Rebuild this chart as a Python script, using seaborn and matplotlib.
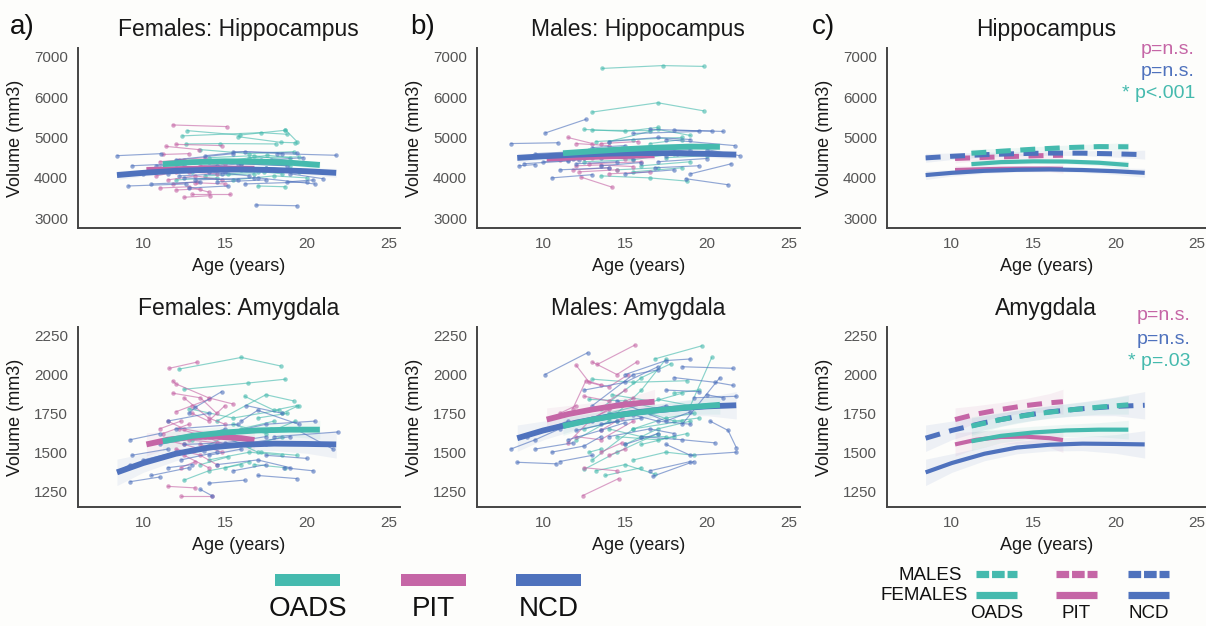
import matplotlib
matplotlib.use("Agg")
import matplotlib.pyplot as plt
import numpy as np
import pandas as pd
import seaborn as sns
from matplotlib.lines import Line2D
from matplotlib.patches import Rectangle

sns.set_theme(style="white")
plt.rcParams["font.family"] = ["Liberation Sans", "DejaVu Sans"]

# ---------------- data ----------------
groups = ["OADS", "PIT", "NCD"]
colors = {"OADS": "#45BAAE", "PIT": "#C566A6", "NCD": "#4F72BD"}

# individual trajectories: each subject = age1, vol1, age2, vol2, [age3, vol3, ...]
fh_ncd = [[8.4, 4550, 11.1, 4600], [9.1, 3800, 12.6, 3850], [9.3, 4300, 12.0, 4350],
          [10.5, 3850, 13.5, 3900], [11.5, 4100, 14.0, 4150, 16.5, 4050], [12.0, 4450, 15.5, 4600],
          [12.5, 4000, 15.8, 3950], [13.0, 4250, 16.0, 4350], [13.8, 4550, 16.2, 4650, 18.5, 4600],
          [14.5, 3900, 17.5, 3950], [15.0, 4150, 18.0, 4200], [15.5, 4650, 19.4, 4620],
          [16.2, 3850, 20.0, 3900], [16.9, 3330, 19.4, 3310], [17.0, 4000, 20.5, 3850],
          [17.5, 4250, 21.3, 4150], [18.2, 4600, 21.8, 4560], [18.8, 3900, 20.4, 3950],
          [10.0, 4100, 13.0, 4200], [12.8, 3750, 15.2, 3800], [14.0, 4400, 17.2, 4450],
          [19.0, 4100, 21.0, 3980], [11.0, 4250, 14.5, 4300], [12.2, 4050, 14.8, 4100],
          [15.8, 4350, 18.8, 4300], [13.2, 3950, 16.8, 4000], [17.8, 4450, 19.8, 4500],
          [10.8, 4300, 12.5, 4320]]
fh_oads = [[12.7, 5170, 15.9, 5060, 18.7, 5180], [12.4, 5040, 17.2, 5120, 18.8, 5080],
           [12.6, 4840, 14.7, 4850, 18.1, 4840], [15.8, 5020, 18.4, 4880, 19.3, 4870],
           [13.5, 4700, 16.5, 4600, 19.2, 4650], [14.8, 4400, 17.6, 4560, 19.0, 4500],
           [13.0, 4150, 16.0, 4200, 18.5, 4100], [15.5, 3950, 18.0, 4050, 20.0, 4000],
           [12.0, 3950, 14.5, 4000], [16.0, 4350, 19.0, 4300], [17.0, 3800, 18.7, 3780],
           [14.2, 4250, 17.4, 4150, 19.6, 4200], [16.5, 4500, 19.5, 4520], [13.8, 4050, 16.8, 4100],
           [18.7, 5190, 19.4, 4900], [14.0, 4500, 16.8, 4550, 19.0, 4420], [17.5, 4250, 19.5, 4150],
           [15.2, 4100, 17.0, 4150]]
fh_pit = [[11.8, 5310, 15.1, 5270], [11.4, 4780, 13.4, 4700], [12.0, 4830, 14.8, 4800],
          [10.8, 4200, 12.5, 4250], [11.0, 3750, 12.8, 3780, 14.0, 3650], [12.5, 3520, 14.1, 3560],
          [13.0, 3600, 15.3, 3600], [11.5, 3950, 13.2, 4050, 14.8, 3950], [12.2, 4450, 13.8, 4500],
          [10.8, 4050, 12.0, 4150], [13.5, 4300, 15.0, 4350], [12.0, 3700, 13.5, 3730],
          [11.2, 4580, 12.8, 4600], [13.2, 3880, 15.0, 3850], [11.0, 4400, 12.5, 4450],
          [12.8, 4150, 14.5, 4100], [11.8, 3850, 13.3, 3900]]

mh_ncd = [[8.0, 4850, 10.9, 4870], [10.1, 5110, 12.6, 5450], [8.5, 4300, 9.5, 4330],
          [8.8, 4350, 11.5, 4420], [9.5, 4600, 12.0, 4650], [10.5, 4000, 13.0, 4080],
          [11.0, 4200, 14.0, 4250], [12.5, 4500, 15.5, 4480], [13.5, 4300, 16.0, 4380],
          [14.0, 4900, 17.0, 5000, 19.0, 4950], [15.0, 4100, 18.0, 4200], [15.5, 5100, 19.5, 5150],
          [16.0, 4600, 19.0, 4700], [16.5, 5200, 21.0, 5150], [17.0, 4400, 20.0, 4480],
          [17.5, 4950, 21.7, 4800], [18.0, 5180, 20.3, 5160], [18.7, 3980, 21.3, 3830],
          [19.0, 4100, 21.5, 4350], [20.0, 4700, 22.0, 4550], [13.0, 4750, 15.0, 4800],
          [11.5, 4450, 13.5, 4500], [9.0, 4520, 11.8, 4480], [14.5, 4650, 17.5, 4550],
          [12.0, 4350, 14.5, 4400], [16.8, 4250, 19.5, 4300], [14.8, 4550, 18.2, 4600],
          [10.0, 4400, 12.2, 4450]]
mh_oads = [[13.6, 6710, 17.3, 6780, 19.8, 6760], [13.0, 5630, 17.0, 5860, 19.8, 5660],
           [12.5, 5200, 15.0, 5150, 17.0, 5250], [13.0, 5180, 16.5, 5170],
           [14.0, 4900, 17.0, 5200, 19.0, 5050], [12.5, 4400, 15.5, 4450, 18.0, 4600],
           [13.5, 4050, 16.5, 4000, 18.8, 3920], [14.5, 4200, 17.0, 4250],
           [15.0, 4600, 18.0, 4750, 19.5, 4800], [16.0, 4300, 19.0, 4400], [12.8, 4700, 14.8, 4750],
           [17.5, 4500, 20.0, 4550], [13.2, 4900, 15.5, 4950, 18.5, 5000], [16.5, 4850, 18.5, 4950],
           [15.5, 4150, 18.5, 4250], [13.5, 4550, 16.0, 4600]]
mh_pit = [[12.3, 4020, 14.2, 3770], [12.0, 4850, 14.0, 4800], [11.5, 5000, 13.0, 4850],
          [12.5, 4650, 14.5, 4700, 16.0, 4600], [13.0, 4500, 15.0, 4480],
          [12.0, 4300, 13.5, 4320, 15.5, 4280], [11.8, 4200, 14.0, 4250], [13.5, 4850, 15.8, 4900],
          [12.8, 4350, 16.0, 4400], [14.0, 4100, 16.5, 4150], [11.0, 4450, 12.5, 4500],
          [13.0, 4600, 15.0, 4650], [12.2, 4150, 14.5, 4200]]

fa_ncd = [[8.5, 1380, 9.2, 1420], [9.2, 1310, 11.0, 1340], [9.3, 1480, 11.5, 1520],
          [9.2, 1580, 11.0, 1620], [10.5, 1350, 12.8, 1400], [11.0, 1550, 13.5, 1600, 15.0, 1650],
          [11.5, 1700, 14.0, 1750], [12.3, 1450, 14.5, 1500], [12.8, 1750, 13.2, 1790, 14.8, 1890],
          [13.5, 1260, 14.2, 1220], [13.7, 1510, 16.5, 1550], [14.0, 1300, 16.2, 1320],
          [14.5, 1420, 17.0, 1450, 19.0, 1400], [15.0, 1620, 17.5, 1680, 20.5, 1700],
          [16.5, 1560, 19.0, 1600], [16.3, 1800, 18.5, 1750], [17.0, 1350, 19.4, 1330],
          [17.5, 1480, 20.0, 1460], [18.0, 1600, 21.9, 1630], [18.6, 1400, 20.4, 1380],
          [12.0, 1650, 15.8, 1680], [10.0, 1450, 12.0, 1500], [19.3, 1650, 21.6, 1520],
          [16.0, 1700, 17.0, 1770, 19.5, 1680], [12.5, 1550, 15.0, 1560, 17.5, 1600],
          [14.0, 1480, 16.0, 1520], [15.5, 1380, 17.5, 1420], [11.5, 1400, 13.0, 1420],
          [17.5, 1550, 19.5, 1560]]
fa_oads = [[12.2, 2035, 16.0, 2110, 18.4, 2055], [12.5, 1905, 16.4, 1945, 18.7, 1970],
           [12.8, 1780, 15.5, 1720, 18.3, 1770], [14.5, 1700, 17.5, 1870, 19.2, 1830],
           [16.2, 1860, 18.0, 1770, 19.4, 1800], [13.0, 1580, 15.5, 1620, 17.8, 1650],
           [12.5, 1320, 14.0, 1380, 16.0, 1420], [14.0, 1450, 16.5, 1500, 18.5, 1480],
           [15.5, 1680, 17.5, 1620, 19.3, 1700], [16.8, 1420, 18.7, 1400],
           [13.5, 1520, 15.0, 1600, 17.0, 1500], [17.2, 1500, 19.4, 1480], [18.5, 1750, 19.5, 1800],
           [15.0, 1400, 16.5, 1440], [17.0, 1720, 18.8, 1750], [14.0, 1600, 16.0, 1650, 18.0, 1700],
           [16.5, 1540, 18.5, 1600], [13.5, 1420, 15.2, 1470]]
fa_pit = [[11.6, 2040, 13.3, 2080], [11.8, 1960, 12.0, 1940, 14.0, 1850, 15.5, 1810],
          [11.8, 1880, 13.5, 1850, 14.5, 1750], [12.0, 1760, 13.0, 1800, 14.0, 1840],
          [11.5, 1700, 12.5, 1650, 14.0, 1620], [12.2, 1650, 13.8, 1600, 15.0, 1550],
          [11.3, 1580, 12.5, 1550, 13.5, 1520], [12.0, 1520, 13.5, 1480, 14.5, 1420],
          [12.3, 1400, 13.2, 1440], [11.5, 1280, 13.2, 1270], [12.3, 1220, 14.2, 1220],
          [13.0, 1750, 14.0, 1700, 15.0, 1800], [12.5, 1480, 14.0, 1400], [11.0, 1650, 12.3, 1700],
          [12.8, 1580, 14.5, 1560], [12.5, 1850, 14.0, 1720, 15.0, 1680], [11.2, 1620, 12.8, 1680],
          [13.5, 1550, 14.8, 1500]]

ma_ncd = [[10.1, 2000, 12.7, 2140], [8.4, 1435, 10.8, 1425], [8.0, 1520, 9.5, 1580, 11.0, 1650],
          [9.0, 1600, 11.5, 1700], [9.5, 1520, 11.8, 1560], [10.5, 1500, 12.5, 1540, 13.5, 1600],
          [11.0, 1440, 13.0, 1480], [12.5, 1900, 15.0, 1950, 17.0, 2050],
          [13.0, 1800, 15.5, 2000, 17.0, 2030], [13.5, 1680, 16.0, 1720],
          [14.0, 1600, 16.5, 1650, 18.0, 1620], [14.5, 1830, 17.5, 1700, 19.0, 1760],
          [15.0, 2000, 17.5, 2090, 19.0, 2100], [15.5, 1740, 17.0, 1700, 19.0, 1680],
          [16.7, 1345, 19.2, 1440], [16.0, 1600, 18.5, 1580, 20.5, 1560], [17.5, 1900, 19.5, 1890],
          [17.5, 1550, 19.0, 1480, 21.8, 1500], [18.0, 1980, 20.5, 1950, 21.6, 1930],
          [18.5, 2050, 21.6, 2040], [19.2, 1850, 21.8, 1860], [20.0, 1870, 21.0, 1850],
          [20.2, 1700, 21.3, 1640, 21.8, 1530], [18.5, 1680, 20.8, 1980], [12.0, 1640, 14.5, 1700],
          [16.5, 1380, 19.0, 1440], [13.0, 1700, 15.5, 1750, 17.5, 1800], [15.0, 1550, 17.0, 1620],
          [11.5, 1580, 13.5, 1640, 15.0, 1690]]
ma_oads = [[16.8, 2100, 19.7, 2185], [12.0, 1580, 14.0, 1700, 16.0, 1900, 17.5, 2100],
           [13.0, 1450, 15.5, 1650, 18.5, 1700], [12.5, 1390, 14.5, 1500, 17.0, 1620],
           [13.0, 1970, 15.5, 1950, 18.8, 1960], [12.8, 1840, 15.0, 1830, 17.0, 1780],
           [13.5, 1780, 16.0, 1980, 17.8, 2070], [14.0, 1650, 16.0, 1600, 17.5, 1600],
           [15.0, 1550, 17.0, 1650, 19.0, 1700], [16.5, 1750, 18.0, 1700, 19.5, 1720],
           [13.2, 1380, 15.0, 1420, 16.8, 1360], [14.2, 1870, 16.5, 1830],
           [17.0, 1840, 19.0, 1800, 20.3, 2110], [14.5, 1600, 17.0, 1580, 18.8, 1620],
           [15.5, 1450, 17.5, 1500, 19.2, 1480], [12.8, 1500, 13.5, 1520], [18.0, 1880, 19.5, 1900],
           [13.8, 1350, 16.0, 1400], [14.0, 1750, 16.5, 1820, 18.5, 1880],
           [15.5, 1650, 17.5, 1720, 19.2, 1750], [16.0, 1550, 18.0, 1600], [12.5, 1650, 14.5, 1700]]
ma_pit = [[13.3, 2065, 15.6, 2190], [12.4, 1220, 14.6, 1330], [12.0, 2060, 12.8, 1950, 13.5, 1930],
          [11.8, 1780, 12.6, 1960, 14.0, 1920, 15.2, 2000], [13.0, 2080, 14.5, 2000, 15.7, 2080],
          [12.5, 1860, 14.0, 1830, 15.0, 1900], [11.5, 1560, 13.0, 1720, 15.0, 1820],
          [12.0, 1600, 13.5, 1580, 15.5, 1700], [13.5, 1640, 14.8, 1720], [12.5, 1400, 14.5, 1380],
          [14.0, 1480, 15.0, 1520], [11.0, 1750, 12.0, 1800], [12.8, 1700, 14.0, 1780, 15.5, 1850],
          [13.5, 1500, 14.8, 1560]]

# model fits (age grid per group)
ncd_fit_age = [8.4, 10, 12, 14, 16, 18, 20, 21.8]
oads_fit_age = [11.2, 13, 15, 17, 19, 20.8]
pit_fit_age = [10.2, 11.5, 13, 14.5, 16, 16.8]

fh_ncd_fit = [4070, 4125, 4175, 4200, 4210, 4195, 4165, 4125]
fh_oads_fit = [4340, 4390, 4410, 4405, 4375, 4320]
fh_pit_fit = [4195, 4210, 4225, 4230, 4230, 4225]
mh_ncd_fit = [4495, 4535, 4575, 4600, 4615, 4612, 4595, 4575]
mh_oads_fit = [4610, 4660, 4710, 4750, 4775, 4770]
mh_pit_fit = [4480, 4500, 4520, 4540, 4555, 4560]
fa_ncd_fit = [1370, 1430, 1490, 1530, 1548, 1555, 1553, 1550]
fa_oads_fit = [1570, 1605, 1627, 1640, 1645, 1645]
fa_pit_fit = [1550, 1580, 1598, 1600, 1590, 1578]
ma_ncd_fit = [1590, 1640, 1690, 1730, 1760, 1780, 1795, 1802]
ma_oads_fit = [1668, 1710, 1745, 1770, 1790, 1805]
ma_pit_fit = [1710, 1745, 1775, 1800, 1818, 1825]

# confidence half-widths
hip_ncd_ci = [110, 80, 60, 55, 55, 60, 80, 110]
hip_oads_ci = [100, 70, 60, 60, 70, 100]
hip_pit_ci = [110, 80, 70, 70, 80, 110]
amy_ncd_ci = [85, 60, 45, 40, 40, 45, 60, 88]
amy_oads_ci = [60, 45, 40, 40, 45, 60]
amy_pit_ci = [75, 55, 45, 45, 60, 80]

hip_ticks = [3000, 4000, 5000, 6000, 7000]
amy_ticks = [1250, 1500, 1750, 2000, 2250]
age_ticks = [10, 15, 20, 25]

# ---------------- layout ----------------
W, H = 1206, 626
fig = plt.figure(figsize=(W / 100, H / 100), dpi=100)
fig.patch.set_facecolor("#fdfdfb")


def add_ax(left, top, right, bottom):
    return fig.add_axes([left / W, 1 - bottom / H, (right - left) / W, (bottom - top) / H])


def long_df(d):
    rows = []
    sid = 0
    for g, subs in d.items():
        for s in subs:
            for i in range(0, len(s), 2):
                rows.append((sid, g, s[i], s[i + 1]))
            sid += 1
    return pd.DataFrame(rows, columns=["subj", "group", "age", "vol"])


def style_ax(ax, title, yticks, ylim, xlim):
    ax.set_facecolor("#fdfdfb")
    ax.set_xlim(*xlim)
    ax.set_ylim(*ylim)
    ax.set_xticks(age_ticks)
    ax.set_yticks(yticks)
    ax.set_xlabel("Age (years)", fontsize=13, color="#1a1a1a", labelpad=5)
    ax.set_ylabel("Volume (mm3)", fontsize=13, color="#1a1a1a", labelpad=7)
    ax.set_title(title, fontsize=16.5, color="#1a1a1a", pad=9)
    ax.tick_params(axis="both", length=0, labelsize=11, labelcolor="#555555", pad=7)
    sns.despine(ax=ax)
    for sp in ["left", "bottom"]:
        ax.spines[sp].set_color("#444444")
        ax.spines[sp].set_linewidth(1.4)


fits = {
    "hip": {"F": {"OADS": fh_oads_fit, "PIT": fh_pit_fit, "NCD": fh_ncd_fit},
            "M": {"OADS": mh_oads_fit, "PIT": mh_pit_fit, "NCD": mh_ncd_fit}},
    "amy": {"F": {"OADS": fa_oads_fit, "PIT": fa_pit_fit, "NCD": fa_ncd_fit},
            "M": {"OADS": ma_oads_fit, "PIT": ma_pit_fit, "NCD": ma_ncd_fit}},
}
cis = {"hip": {"OADS": hip_oads_ci, "PIT": hip_pit_ci, "NCD": hip_ncd_ci},
       "amy": {"OADS": amy_oads_ci, "PIT": amy_pit_ci, "NCD": amy_ncd_ci}}
fit_ages = {"OADS": oads_fit_age, "PIT": pit_fit_age, "NCD": ncd_fit_age}
draw_order = ["PIT", "NCD", "OADS"]


def draw_fit(ax, region, sex, g, lw, ls="-", band_alpha=0.1):
    a = np.array(fit_ages[g], float)
    v = np.array(fits[region][sex][g], float)
    c = np.array(cis[region][g], float)
    ax.fill_between(a, v - c, v + c, color=colors[g], alpha=band_alpha, lw=0)
    sns.lineplot(x=a, y=v, color=colors[g], lw=lw, ax=ax, estimator=None, sort=False,
                 linestyle=ls, solid_capstyle="butt", dash_capstyle="butt")


def spaghetti(ax, d, region, sex):
    df = long_df(d)
    sns.lineplot(data=df, x="age", y="vol", hue="group", units="subj", estimator=None,
                 palette=colors, hue_order=groups, lw=0.85, alpha=0.62, marker="o",
                 markersize=3.2, markeredgewidth=0, legend=False, ax=ax)
    for g in draw_order:
        draw_fit(ax, region, sex, g, lw=4.2, band_alpha=0.08)


top = (48.3, 227.7)
bot = (327.3, 506.7)
hip_ylim = (2767, 7208)
amy_ylim = (1149, 2304)

ax_a1 = add_ax(77.7, top[0], 400, top[1])
spaghetti(ax_a1, {"OADS": fh_oads, "PIT": fh_pit, "NCD": fh_ncd}, "hip", "F")
style_ax(ax_a1, "Females: Hippocampus", hip_ticks, hip_ylim, (6.0, 25.7))

ax_b1 = add_ax(476.7, top[0], 800, top[1])
spaghetti(ax_b1, {"OADS": mh_oads, "PIT": mh_pit, "NCD": mh_ncd}, "hip", "M")
style_ax(ax_b1, "Males: Hippocampus", hip_ticks, hip_ylim, (5.92, 25.7))

ax_a2 = add_ax(77.7, bot[0], 400, bot[1])
spaghetti(ax_a2, {"OADS": fa_oads, "PIT": fa_pit, "NCD": fa_ncd}, "amy", "F")
style_ax(ax_a2, "Females: Amygdala", amy_ticks, amy_ylim, (6.0, 25.7))

ax_b2 = add_ax(476.7, bot[0], 800, bot[1])
spaghetti(ax_b2, {"OADS": ma_oads, "PIT": ma_pit, "NCD": ma_ncd}, "amy", "M")
style_ax(ax_b2, "Males: Amygdala", amy_ticks, amy_ylim, (5.92, 25.7))

dash = (0, (3.0, 1.9))
for region, (t, b), ttl, yt, yl in [("hip", top, "Hippocampus", hip_ticks, hip_ylim),
                                    ("amy", bot, "Amygdala", amy_ticks, amy_ylim)]:
    ax = add_ax(886.7, t, 1206, b)
    for g in draw_order:
        draw_fit(ax, region, "F", g, lw=3.0, band_alpha=0.09)
    for g in draw_order:
        draw_fit(ax, region, "M", g, lw=3.6, ls=dash, band_alpha=0.09)
    style_ax(ax, ttl, yt, yl, (6.02, 25.55))

# ---------------- overlay: labels, legends, p-values ----------------
ov = fig.add_axes([0, 0, 1, 1])
ov.set_xlim(0, W)
ov.set_ylim(H, 0)
ov.axis("off")

for x, lab in [(10, "a)"), (410, "b)"), (812, "c)")]:
    ov.text(x, 27, lab, fontsize=20, ha="left", va="center", color="#111111")

# p-values
pv_hip = [(49, "p=n.s.", "PIT"), (72, "p=n.s.", "NCD"), (94, "* p<.001", "OADS")]
pv_amy = [(315, "p=n.s.", "PIT"), (339, "p=n.s.", "NCD"), (361, "* p=.03", "OADS")]
for y, s, g in pv_hip:
    ov.text(1195, y, s, fontsize=14, ha="right", va="center", color=colors[g])
for y, s, g in pv_amy:
    ov.text(1191, y, s, fontsize=14, ha="right", va="center", color=colors[g])

# bottom-centre legend
leg_x = {"OADS": 275, "PIT": 401, "NCD": 516}
for g in groups:
    ov.add_patch(Rectangle((leg_x[g], 574), 65, 12, color=colors[g], lw=0))
    ov.text(leg_x[g] + 32.5, 609, g, fontsize=20, ha="center", va="center", color="#111111")

# panel c legend
c_x = {"OADS": 976, "PIT": 1056, "NCD": 1128}
for g in groups:
    ov.add_line(Line2D([c_x[g], c_x[g] + 41], [574, 574], color=colors[g], lw=5.2,
                       linestyle=(0, (1.75, 0.4)), dash_capstyle="butt"))
    ov.add_line(Line2D([c_x[g], c_x[g] + 41], [595, 595], color=colors[g], lw=5.2,
                       solid_capstyle="butt"))
    ov.text(c_x[g] + 20.5, 614, g, fontsize=13.5, ha="center", va="center", color="#111111")
ov.text(962, 575, "MALES", fontsize=13.5, ha="right", va="center", color="#111111")
ov.text(968, 596, "FEMALES", fontsize=13.5, ha="right", va="center", color="#111111")

fig.savefig("out.png", dpi=100, facecolor=fig.get_facecolor())
